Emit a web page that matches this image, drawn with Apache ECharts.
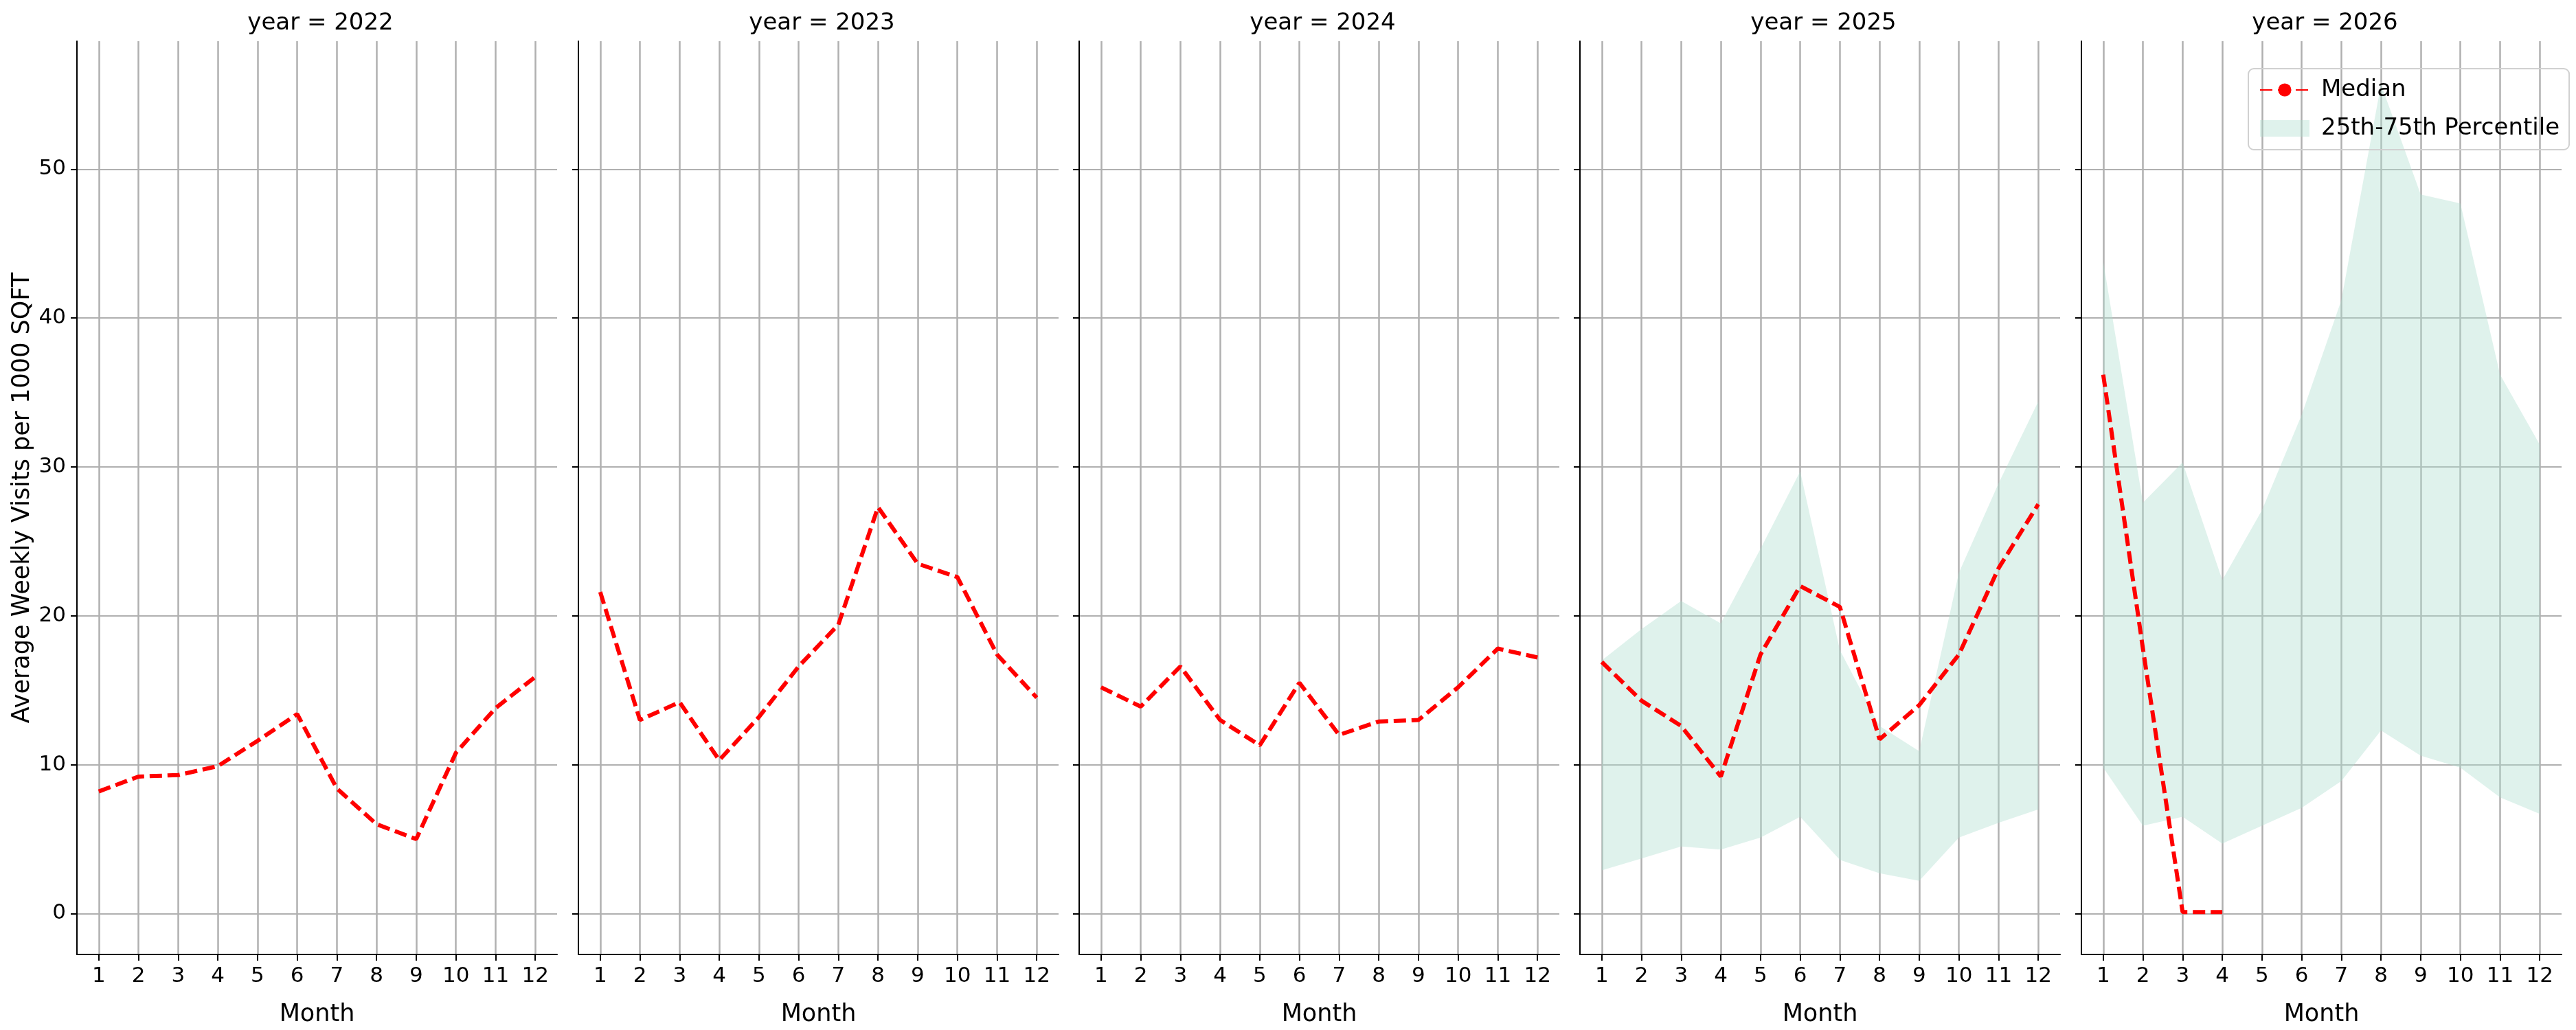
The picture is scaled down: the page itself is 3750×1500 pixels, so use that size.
<!DOCTYPE html>
<html><head><meta charset="utf-8">
<script src="https://cdn.jsdelivr.net/npm/echarts@6/dist/echarts.min.js"></script>
<style>html,body{margin:0;padding:0;background:#fff}#c{width:3750px;height:1500px}</style>
</head><body><div id="c"></div>
<script>
const years = [2022, 2023, 2024, 2025, 2026];
const months = [1,2,3,4,5,6,7,8,9,10,11,12];
const yTicks = [0,10,20,30,40,50];
const median2022 = [8.2, 9.2, 9.3, 9.9, 11.6, 13.4, 8.4, 6.0, 5.0, 10.8, 13.8, 15.9];
const median2023 = [21.6, 13.0, 14.2, 10.3, 13.2, 16.6, 19.4, 27.3, 23.5, 22.6, 17.4, 14.5];
const median2024 = [15.2, 13.9, 16.6, 13.0, 11.3, 15.5, 12.0, 12.9, 13.0, 15.2, 17.8, 17.2];
const median2025 = [16.9, 14.3, 12.6, 9.2, 17.4, 22.0, 20.6, 11.7, 14.0, 17.4, 23.2, 27.5];
const median2026 = [36.2, 17.8, 0.1, 0.1];
const p25_2025 = [2.9, 3.7, 4.5, 4.3, 5.1, 6.5, 3.6, 2.7, 2.2, 5.1, 6.1, 7.0];
const p75_2025 = [17.0, 19.1, 21.0, 19.5, 24.5, 29.7, 17.7, 12.6, 10.9, 22.9, 28.9, 34.4];
const p25_2026 = [9.8, 5.9, 6.5, 4.7, 5.9, 7.1, 8.9, 12.3, 10.6, 9.8, 7.8, 6.7];
const p75_2026 = [43.8, 27.6, 30.3, 22.4, 27.1, 33.5, 41.2, 55.7, 48.3, 47.7, 36.2, 31.5];
const medians = [median2022, median2023, median2024, median2025, median2026];
const p25s = [null, null, null, p25_2025, p25_2026];
const p75s = [null, null, null, p75_2025, p75_2026];

const F = 'DejaVu Sans';
const lefts = [112, 842, 1571, 2300, 3030];
const W = 699;
const BAND = 'rgba(175,222,207,0.4)';
const grids=[], xAxes=[], yAxes=[], series=[], titles=[];
years.forEach((yr,i)=>{
  grids.push({left:lefts[i], width:W, top:60, bottom:106, containLabel:false});
  titles.push({text:'year = '+yr, left:lefts[i]+W/2, top:12, textAlign:'center',
    textStyle:{fontFamily:F, fontSize:34, fontWeight:'normal', color:'#000'}});
  xAxes.push({type:'value', gridIndex:i, min:0.45, max:12.55,
    name:'Month', nameLocation:'middle', nameGap:70,
    nameTextStyle:{fontFamily:F, fontSize:35, color:'#000'},
    axisLine:{show:true, onZero:false, lineStyle:{color:'#000', width:2}},
    axisTick:{show:true, customValues:months, length:9, lineStyle:{color:'#000', width:2}},
    axisLabel:{customValues:months, fontFamily:F, fontSize:31, color:'#000', margin:16},
    splitLine:{show:true, lineStyle:{color:'#b0b0b0', width:2.5}}});
  yAxes.push({type:'value', gridIndex:i, min:-2.75, max:58.6,
    name: i===0 ? 'Average Weekly Visits per 1000 SQFT' : '', nameLocation:'middle', nameGap:62,
    nameTextStyle:{fontFamily:F, fontSize:35, color:'#000'},
    axisLine:{show:true, lineStyle:{color:'#000', width:2}},
    axisTick:{show:true, customValues:yTicks, length:9, lineStyle:{color:'#000', width:2}},
    axisLabel:{show:i===0, customValues:yTicks, fontFamily:F, fontSize:31, color:'#000', margin:16},
    splitLine:{show:true, lineStyle:{color:'#b0b0b0', width:2}}});
  if (p25s[i]) {
    const lo = p25s[i], hi = p75s[i];
    series.push({type:'custom', name:'25th-75th Percentile', xAxisIndex:i, yAxisIndex:i,
      itemStyle:{color:BAND}, encode:{x:0, y:[1,2]},
      data: months.map((m,k)=>[m, lo[k], hi[k]]), z:1,
      renderItem:(params, api)=>{
        if (params.dataIndex !== 0) return null;
        const pts = [];
        months.forEach((m,k)=>pts.push(api.coord([m, hi[k]])));
        for (let k=months.length-1;k>=0;k--) pts.push(api.coord([months[k], lo[k]]));
        return {type:'polygon', shape:{points:pts}, style:{fill:BAND}};
      }});
  }
  series.push({type:'line', name:'Median', xAxisIndex:i, yAxisIndex:i, symbol:'none',
    lineStyle:{color:'#ff0000', width:6, type:[18,8]}, itemStyle:{color:'#ff0000'},
    data:medians[i].map((v,k)=>[months[k], v]), z:5});
});
const chart = echarts.init(document.getElementById('c'));
chart.setOption({
  animation:false, backgroundColor:'#fff',
  title:titles, grid:grids, xAxis:xAxes, yAxis:yAxes, series:series,
  legend:{data:[{name:'Median'}, {name:'25th-75th Percentile', icon:'rect'}],
    orient:'vertical', left:3273, top:100, itemWidth:72, itemHeight:24, itemGap:22,
    padding:[14,14,14,16], borderColor:'#d0d0d0', borderWidth:2, borderRadius:8,
    textStyle:{fontFamily:F, fontSize:34, color:'#000', padding:[0,0,0,12]}}
});
</script></body></html>
